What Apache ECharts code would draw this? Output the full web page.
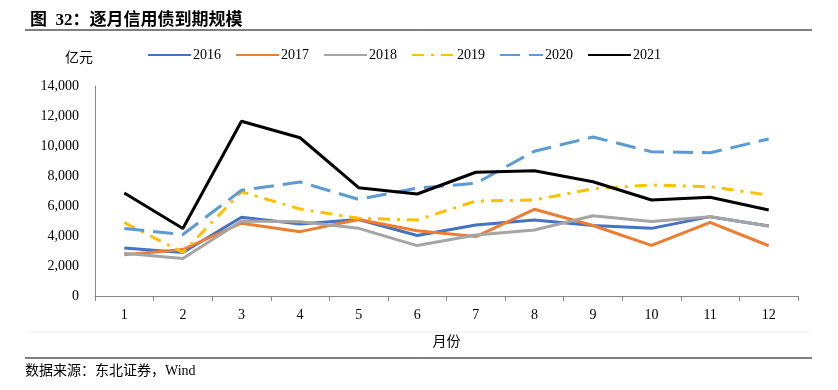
<!DOCTYPE html>
<html><head><meta charset="utf-8">
<script src="https://cdn.jsdelivr.net/npm/echarts@6/dist/echarts.min.js"></script>
<style>html,body{margin:0;padding:0;background:#fff}#c{width:838px;height:390px}</style>
</head><body><div id="c"></div>
<script>
const months = ['1','2','3','4','5','6','7','8','9','10','11','12'];
const s2016 = [3200,2900,5250,4800,5100,4030,4730,5070,4700,4510,5290,4670];
const s2017 = [2750,3100,4850,4290,5100,4350,3960,5780,4700,3380,4910,3350];
const s2018 = [2850,2500,5000,4950,4510,3360,4070,4400,5350,4960,5290,4670];
const s2019 = [4900,2900,6950,5800,5180,5070,6330,6400,7150,7400,7290,6730];
const s2020 = [4500,4100,7050,7600,6440,7200,7510,9650,10600,9620,9550,10470];
const s2021 = [6870,4500,11650,10550,7220,6800,8250,8350,7620,6400,6580,5730];

const serif = '"Liberation Serif","Noto Sans CJK SC",serif';
const chart = echarts.init(document.getElementById('c'));
function mk(name, data, color, type){
  return {name, type:'line', data, symbol:'none', smooth:false,
    lineStyle:{color, width:3, type}, itemStyle:{color}};
}
chart.setOption({
  animation:false,
  backgroundColor:'#fff',
  title:{text:'图  32：逐月信用债到期规模', left:25, top:7,
    textStyle:{fontFamily:serif, fontSize:17, fontWeight:'bold', color:'#000'}},
  legend:{left:147, top:48, padding:0, itemWidth:43, itemHeight:3, itemGap:14,
    itemStyle:{opacity:0},
    textStyle:{fontFamily:serif, fontSize:14, color:'#000', padding:[0,0,0,-3]},
    data:['2016','2017','2018','2019','2020','2021']},
  grid:{left:95, right:40, top:86, bottom:94},
  xAxis:{type:'category', data:months, boundaryGap:true,
    name:'月份', nameLocation:'middle', nameGap:39,
    nameTextStyle:{fontFamily:serif, fontSize:14, color:'#000'},
    axisLine:{lineStyle:{color:'#888', width:1}},
    axisTick:{show:true, length:5, lineStyle:{color:'#888'}},
    axisLabel:{fontFamily:serif, fontSize:14, color:'#000', margin:12}},
  yAxis:{type:'value', min:0, max:14000, interval:2000,
    axisLine:{show:true, lineStyle:{color:'#888', width:1}},
    axisTick:{show:false},
    splitLine:{show:false},
    axisLabel:{fontFamily:serif, fontSize:14, color:'#000', margin:16,
      formatter:v=>v.toLocaleString('en-US')}},
  graphic:[
    {type:'text', left:65, top:51, style:{text:'亿元', font:'14px '+serif, fill:'#000'}},
    {type:'line', shape:{x1:25,y1:30,x2:812,y2:30}, style:{stroke:'#000', lineWidth:1}},
    {type:'line', shape:{x1:27,y1:332,x2:810,y2:332}, style:{stroke:'#eee', lineWidth:1}},
    {type:'line', shape:{x1:25,y1:358,x2:812,y2:358}, style:{stroke:'#000', lineWidth:1}},
    {type:'text', left:25, top:364, style:{text:'数据来源：东北证券，Wind', font:'14px '+serif, fill:'#000'}}
  ],
  series:[
    mk('2016', s2016, '#4472C4', 'solid'),
    mk('2017', s2017, '#ED7D31', 'solid'),
    mk('2018', s2018, '#A5A5A5', 'solid'),
    mk('2019', s2019, '#FFC000', [12,7,3,7]),
    mk('2020', s2020, '#5B9BD5', [20,9]),
    mk('2021', s2021, '#000000', 'solid')
  ]
});
</script></body></html>
